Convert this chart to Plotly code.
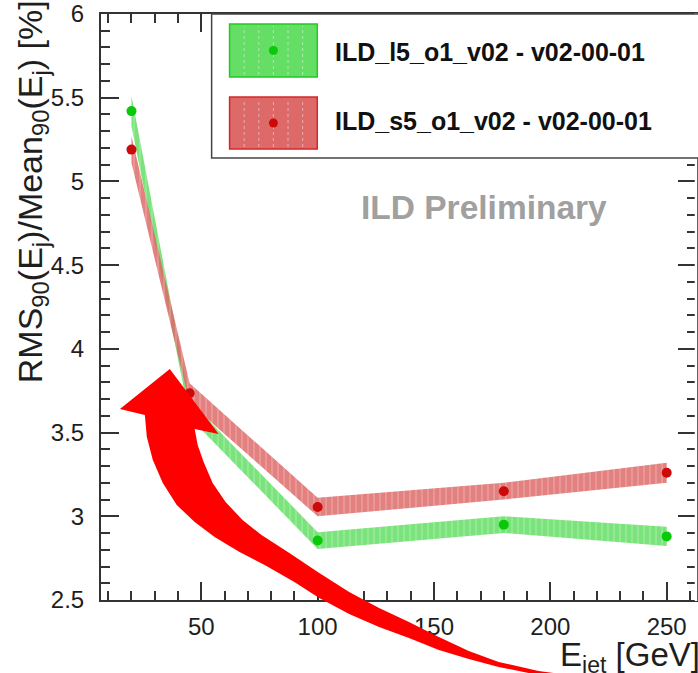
import plotly.graph_objects as go

# ---------------- data ----------------
energies = [20, 45, 100, 180, 250]
green_vals = [5.42, 3.64, 2.855, 2.95, 2.88]
green_err = [0.09, 0.05, 0.05, 0.05, 0.057]
red_vals = [5.19, 3.735, 3.055, 3.15, 3.26]
red_err = [0.08, 0.06, 0.055, 0.05, 0.06]
series_names = ["ILD_l5_o1_v02 - v02-00-01", "ILD_s5_o1_v02 - v02-00-01"]
x_ticks = [50, 100, 150, 200, 250]
y_ticks = [2.5, 3, 3.5, 4, 4.5, 5, 5.5, 6]
y_ticktext = ["2.5", "3", "3.5", "4", "4.5", "5", "5.5", "6"]

W, H = 698, 673
ML, MR, MT, MB = 101, 0, 14, 73
PW, PH = W - ML - MR, H - MT - MB


def px(xp):
    return (xp - ML) / PW


def py(yp):
    return (H - MB - yp) / PH


FONT = "Liberation Sans, Arial, Helvetica, sans-serif"
fig = go.Figure()


def band(xv, yv, ev, bg):
    xs = list(xv) + list(xv)[::-1]
    ys = [a + b for a, b in zip(yv, ev)] + [a - b for a, b in zip(yv, ev)][::-1]
    fig.add_trace(go.Scatter(
        x=xs, y=ys, mode="lines", fill="toself", line=dict(width=0),
        fillcolor=bg, opacity=0.85, hoverinfo="skip", showlegend=False,
        fillpattern=dict(shape="|", bgcolor=bg, fgcolor="rgba(255,255,255,0.6)",
                         size=6, solidity=0.2),
    ))


band(energies, green_vals, green_err, "rgb(100,222,100)")
band(energies, red_vals, red_err, "rgb(222,105,105)")

fig.add_trace(go.Scatter(x=energies, y=green_vals, mode="markers",
                         marker=dict(color="rgb(10,200,10)", size=10),
                         name=series_names[0], showlegend=False))
fig.add_trace(go.Scatter(x=energies, y=red_vals, mode="markers",
                         marker=dict(color="rgb(205,10,10)", size=10),
                         name=series_names[1], showlegend=False))

axis_common = dict(showline=True, linecolor="#333", linewidth=2, mirror="ticks",
                   ticks="inside", ticklen=18, tickwidth=2, tickcolor="#333",
                   showgrid=False, zeroline=False,
                   tickfont=dict(family=FONT, size=24, color="#1e1e1e"))

fig.update_xaxes(range=[6.9, 262.6], tickvals=x_ticks, ticklabelstandoff=4,
                 minor=dict(dtick=10, tick0=0, ticklen=9, tickwidth=2, ticks="inside",
                            tickcolor="#333"),
                 **axis_common)
fig.update_yaxes(range=[2.5, 6], tickvals=y_ticks, ticktext=y_ticktext,
                 ticklabelstandoff=10,
                 minor=dict(dtick=0.1, tick0=0, ticklen=9, tickwidth=2, ticks="inside",
                            tickcolor="#333"),
                 **axis_common)

shapes = []
# hide the right frame line (it lies just outside the reference crop)
shapes.append(dict(type="line", xref="paper", yref="paper",
                   x0=px(698), x1=px(698), y0=py(601), y1=py(13),
                   line=dict(color="white", width=2.5), layer="above"))
# legend box
shapes.append(dict(type="rect", xref="paper", yref="paper",
                   x0=px(212), x1=px(760), y0=py(158), y1=py(14),
                   line=dict(color="#444", width=1.5), fillcolor="white", layer="above"))
# legend swatches
sw = [("rgb(100,222,100)", "rgb(30,205,30)", "rgb(10,200,10)", 24, 77),
      ("rgb(222,105,105)", "rgb(210,40,40)", "rgb(205,10,10)", 97, 149)]
for fillc, linec, dotc, y0, y1 in sw:
    shapes.append(dict(type="rect", xref="paper", yref="paper",
                       x0=px(230), x1=px(318), y0=py(y1), y1=py(y0),
                       line=dict(color=linec, width=1.5), fillcolor=fillc, layer="above"))
    for k in range(1, 6):
        xx = 230 + k * 88 / 6
        shapes.append(dict(type="line", xref="paper", yref="paper",
                           x0=px(xx), x1=px(xx), y0=py(y1 - 2), y1=py(y0 + 2),
                           line=dict(color="rgba(255,255,255,0.45)", width=1, dash="dot"),
                           layer="above"))
    cy = (y0 + y1) / 2
    shapes.append(dict(type="circle", xref="paper", yref="paper",
                       x0=px(269.5), x1=px(278.5), y0=py(cy + 4.5), y1=py(cy - 4.5),
                       line=dict(width=0), fillcolor=dotc, layer="above"))

# red curved arrow decoration (pixel outline)
arrow_head = [(120, 409), (170, 369), (219, 434), (195, 429)]
arrow_inner = [(198, 445), (204, 462), (213, 483), (226, 502), (243, 520), (262, 535),
               (290, 553), (320, 573), (350, 592), (380, 608), (410, 622), (440, 637),
               (470, 651), (500, 662), (540, 671), (585, 677)]
arrow_outer = [(540, 675), (500, 667), (470, 659), (440, 650), (410, 638), (380, 627),
               (350, 614), (320, 598), (295, 582), (267, 566), (240, 552), (215, 537),
               (195, 522), (177, 505), (163, 483), (153, 460), (147, 437), (145, 415)]
arrow_px = arrow_head + arrow_inner + arrow_outer
path = "M " + " L ".join(f"{px(a):.5f},{py(b):.5f}" for a, b in arrow_px) + " Z"
shapes.append(dict(type="path", xref="paper", yref="paper", path=path,
                   fillcolor="rgb(255,0,0)", line=dict(width=0), layer="above"))

annotations = [
    dict(text="<b>" + series_names[0] + "</b>", x=px(334), y=py(52), xref="paper",
         yref="paper", xanchor="left", yanchor="middle", showarrow=False,
         font=dict(family=FONT, size=25, color="#111")),
    dict(text="<b>" + series_names[1] + "</b>", x=px(334), y=py(121), xref="paper",
         yref="paper", xanchor="left", yanchor="middle", showarrow=False,
         font=dict(family=FONT, size=25, color="#111")),
    dict(text="<b>ILD Preliminary</b>", x=px(485), y=py(207), xref="paper", yref="paper",
         xanchor="center", yanchor="middle", showarrow=False,
         font=dict(family=FONT, size=33.5, color="rgb(160,160,160)")),
    dict(text="RMS<sub>90</sub>(E<sub>j</sub>)/Mean<sub>90</sub>(E<sub>j</sub>) [%]",
         x=px(33), y=py(192), xref="paper", yref="paper", textangle=-90,
         xanchor="center", yanchor="middle", showarrow=False,
         font=dict(family=FONT, size=34, color="#1e1e1e")),
    dict(text="E<sub>jet</sub> [GeV]", x=px(704), y=py(657), xref="paper", yref="paper",
         xanchor="right", yanchor="middle", showarrow=False,
         font=dict(family=FONT, size=33, color="#1e1e1e")),
]

fig.update_layout(width=W, height=H, autosize=False,
                  margin=dict(l=ML, r=MR, t=MT, b=MB, pad=0),
                  paper_bgcolor="white", plot_bgcolor="white",
                  shapes=shapes, annotations=annotations, showlegend=False)

fig.write_html("out.html", config={"displayModeBar": False},
               post_script="document.body.style.margin='0';")
